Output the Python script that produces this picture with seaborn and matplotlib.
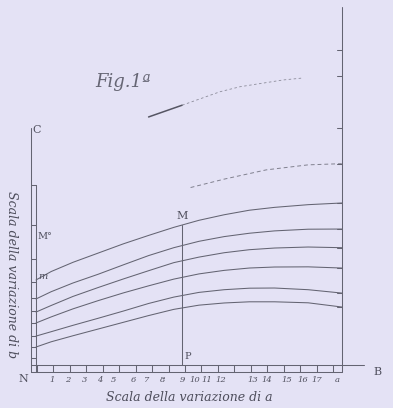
import numpy as np
import pandas as pd
import matplotlib
matplotlib.use("Agg")
import matplotlib.pyplot as plt
import seaborn as sns

# ---------------- data ----------------
a_vals = [0.3, 1.2, 2.5, 4.0, 5.5, 7.0, 8.5, 10.0, 11.5, 13.0, 14.5, 16.5, 18.5]
curve_1 = [1.31, 1.62, 1.98, 2.38, 2.78, 3.18, 3.55, 3.80, 3.93, 4.00, 4.00, 3.94, 3.69]
curve_2 = [1.96, 2.22, 2.60, 3.02, 3.45, 3.90, 4.28, 4.56, 4.72, 4.81, 4.82, 4.72, 4.52]
curve_3 = [2.74, 3.10, 3.58, 4.07, 4.53, 4.95, 5.35, 5.66, 5.87, 6.01, 6.07, 6.08, 6.01]
curve_4 = [3.39, 3.78, 4.32, 4.85, 5.36, 5.85, 6.33, 6.66, 6.92, 7.10, 7.20, 7.26, 7.22]
curve_5 = [4.17, 4.60, 5.12, 5.64, 6.20, 6.75, 7.22, 7.60, 7.88, 8.08, 8.22, 8.32, 8.33]
curve_6 = [5.30, 5.80, 6.35, 6.90, 7.45, 7.95, 8.43, 8.85, 9.18, 9.45, 9.62, 9.78, 9.88]

a_dashed = [9.5, 11.5, 14.0, 16.5, 18.5]
curve_7 = [10.80, 11.30, 11.85, 12.15, 12.22]

a_top = [7.0, 9.0, 11.25, 12.45, 15.0, 16.2]
curve_8 = [15.0, 15.7, 16.5, 16.8, 17.2, 17.32]

right_ticks = [19.0, 17.44, 14.35]
left_ladder_ticks = [10.95, 8.57, 6.55, 5.18, 4.23, 3.45, 2.74, 1.96, 1.31, 0.65]

tick_labels = ["1", "2", "3", "4", "5", "6", "7", "8", "9", "10", "11", "12",
               "13", "14", "15", "16", "17", "a"]
tick_pos = [1.25, 2.2, 3.2, 4.1, 4.9, 6.1, 6.9, 7.85, 9.0, 9.75, 10.45, 11.3,
            13.2, 14.05, 15.2, 16.2, 17.0, 18.2]

M_a = 9.0
M_b = 8.57
x_right = 18.51
y_top_axis = 14.35

# ---------------- figure ----------------
sns.set_theme(style="white")
BG = "#e4e2f5"
INK = "#646472"
plt.rcParams["font.family"] = ["DejaVu Serif"]

fig = plt.figure(figsize=(3.93, 4.08), dpi=100, facecolor=BG)
ax = fig.add_axes([0, 0, 1, 1], facecolor=BG)
ax.set_xlim(-1.845, 21.55)
ax.set_ylim(-2.32, 21.96)
ax.axis("off")

solid = [curve_1, curve_2, curve_3, curve_4, curve_5, curve_6]
rows = []
for i, c in enumerate(solid):
    for a, b in zip(a_vals, c):
        rows.append({"a": a, "b": b, "curve": f"c{i+1}"})
df = pd.DataFrame(rows)
sns.lineplot(data=df, x="a", y="b", units="curve", estimator=None,
             color=INK, lw=0.75, ax=ax, legend=False, sort=False)

sns.lineplot(x=a_dashed, y=curve_7, color="#80808e", lw=0.7, ax=ax,
             linestyle=(0, (4, 3)), legend=False)
sns.lineplot(x=a_top[:2], y=curve_8[:2], color="#555563", lw=1.1, ax=ax, legend=False)
sns.lineplot(x=a_top[1:], y=curve_8[1:], color="#8c8c9a", lw=0.6, ax=ax,
             linestyle=(0, (3, 3)), legend=False)

# axes of the diagram
lk = dict(color=INK, lw=0.75)
ax.plot([0, 0], [-0.15, y_top_axis], **lk)              # N-C
ax.plot([0.3, 0.3], [-0.15, 10.95], **lk)               # ladder inner line
for t in left_ladder_ticks:
    ax.plot([0, 0.3], [t, t], **lk)
ax.plot([0, 19.8], [0.25, 0.25], **lk)                  # N-B
ax.plot([0, x_right], [-0.15, -0.15], **lk)
for k in np.arange(0.35, x_right, 0.98):
    ax.plot([k, k], [-0.15, 0.25], **lk)
ax.plot([x_right, x_right], [-0.15, 21.55], **lk)      # right vertical line
for t in right_ticks + [c[-1] for c in solid] + [curve_7[-1]]:
    ax.plot([x_right - 0.3, x_right], [t, t], **lk)
ax.plot([M_a, M_a], [0.25, M_b], **lk)                  # M-P

# labels
tk = dict(color="#4e4e5c", ha="center", va="center")
ax.text(5.5, 17.1, "Fig.1ª", fontsize=13, style="italic", color="#666674",
        ha="center", va="center")
ax.text(0.35, 14.2, "C", fontsize=8, **tk)
ax.text(0.85, 7.9, "M°", fontsize=7, **tk)
ax.text(0.7, 5.5, "m", fontsize=7, style="italic", **tk)
ax.text(M_a, 9.1, "M", fontsize=8, **tk)
ax.text(9.35, 0.75, "P", fontsize=7, **tk)
ax.text(-0.45, -0.6, "N", fontsize=8, **tk)
ax.text(20.6, -0.2, "B", fontsize=8, **tk)
for p, l in zip(tick_pos, tick_labels):
    ax.text(p, -0.68, l, fontsize=6, style="italic", **tk)
ax.text(9.4, -1.67, "Scala della variazione di a", fontsize=9, style="italic", **tk)
ax.text(-1.15, 5.6, "Scala della variazione di b", fontsize=9, style="italic",
        rotation=270, **tk)

fig.savefig("out.png", dpi=100, facecolor=BG)
